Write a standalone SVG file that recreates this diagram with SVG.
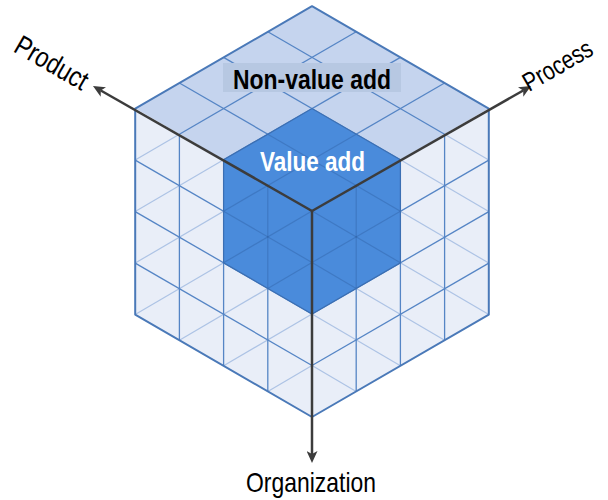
<svg xmlns="http://www.w3.org/2000/svg" width="608" height="500" viewBox="0 0 608 500">
  <style>
    .top { fill: #c5d4ee; }
    .side { fill: #e9eef8; }
    .grid { stroke: #5585c5; stroke-width: 1.3; fill: none; }
    .hid { stroke: #adc3e5; stroke-width: 1.2; fill: none; }
    .edge { stroke: #4a79b8; stroke-width: 2; fill: none; stroke-linejoin: round; }
    .va { fill: #4a8bdb; }
    .vaGrid { stroke: #23508f; stroke-opacity: 0.3; stroke-width: 1.2; fill: none; }
    .axis { stroke: #3c3c3c; stroke-width: 2.5; fill: none; }
    .lbl { font-family: "Liberation Sans Narrow", "Liberation Sans", Arial, sans-serif; font-size: 28px; fill: #000; }
    .bold { font-weight: bold; }
  </style>
  <defs>
    <marker id="arrow" markerUnits="userSpaceOnUse" markerWidth="12" markerHeight="11" viewBox="0 0 12 11" refX="3" refY="5.5" orient="auto">
      <path d="M0,0 L12,5.5 L0,11 L3,5.5 z" fill="#3c3c3c"/>
    </marker>
  </defs>

  <g id="cube">
    <polygon class="top" points="312,211 135.2,108.6 312,6.2 488.8,108.6"/>
    <polygon class="side" points="312,211 135.2,108.6 135.2,314.6 312,417"/>
    <polygon class="side" points="312,211 488.8,108.6 488.8,314.6 312,417"/>
    <g class="hid">
      <line x1="179.4" y1="134.2" x2="135.2" y2="160.1"/>
      <line x1="223.6" y1="159.8" x2="135.2" y2="211.6"/>
      <line x1="267.8" y1="185.4" x2="135.2" y2="263.1"/>
      <line x1="312" y1="211" x2="135.2" y2="314.6"/>
      <line x1="312" y1="262.5" x2="179.4" y2="340.2"/>
      <line x1="312" y1="314" x2="223.6" y2="365.8"/>
      <line x1="312" y1="365.5" x2="267.8" y2="391.4"/>
      <line x1="444.6" y1="134.2" x2="488.8" y2="160.1"/>
      <line x1="400.4" y1="159.8" x2="488.8" y2="211.6"/>
      <line x1="356.2" y1="185.4" x2="488.8" y2="263.1"/>
      <line x1="312" y1="211" x2="488.8" y2="314.6"/>
      <line x1="312" y1="262.5" x2="444.6" y2="340.2"/>
      <line x1="312" y1="314" x2="400.4" y2="365.8"/>
      <line x1="312" y1="365.5" x2="356.2" y2="391.4"/>
    </g>
    <g class="grid">
      <line x1="267.8" y1="185.4" x2="444.6" y2="83"/>
      <line x1="223.6" y1="159.8" x2="400.4" y2="57.4"/>
      <line x1="179.4" y1="134.2" x2="356.2" y2="31.8"/>
      <line x1="356.2" y1="185.4" x2="179.4" y2="83"/>
      <line x1="400.4" y1="159.8" x2="223.6" y2="57.4"/>
      <line x1="444.6" y1="134.2" x2="267.8" y2="31.8"/>
      <line x1="267.8" y1="185.4" x2="267.8" y2="391.4"/>
      <line x1="223.6" y1="159.8" x2="223.6" y2="365.8"/>
      <line x1="179.4" y1="134.2" x2="179.4" y2="340.2"/>
      <line x1="312" y1="262.5" x2="135.2" y2="160.1"/>
      <line x1="312" y1="314" x2="135.2" y2="211.6"/>
      <line x1="312" y1="365.5" x2="135.2" y2="263.1"/>
      <line x1="356.2" y1="185.4" x2="356.2" y2="391.4"/>
      <line x1="400.4" y1="159.8" x2="400.4" y2="365.8"/>
      <line x1="444.6" y1="134.2" x2="444.6" y2="340.2"/>
      <line x1="312" y1="262.5" x2="488.8" y2="160.1"/>
      <line x1="312" y1="314" x2="488.8" y2="211.6"/>
      <line x1="312" y1="365.5" x2="488.8" y2="263.1"/>
    </g>
    <polygon class="edge" points="312,6.2 488.8,108.6 488.8,314.6 312,417 135.2,314.6 135.2,108.6"/>
  </g>

  <g id="value-add">
    <polygon class="va" points="312,211 223.6,159.8 312,108.6 400.4,159.8"/>
    <polygon class="va" points="312,211 223.6,159.8 223.6,262.8 312,314"/>
    <polygon class="va" points="312,211 400.4,159.8 400.4,262.8 312,314"/>
    <g class="vaGrid">
      <line x1="267.8" y1="185.4" x2="356.2" y2="134.2"/>
      <line x1="356.2" y1="185.4" x2="267.8" y2="134.2"/>
      <line x1="267.8" y1="185.4" x2="267.8" y2="288.4"/>
      <line x1="312" y1="262.5" x2="223.6" y2="211.3"/>
      <line x1="267.8" y1="185.4" x2="223.6" y2="211.3"/>
      <line x1="312" y1="211" x2="223.6" y2="262.8"/>
      <line x1="312" y1="262.5" x2="267.8" y2="288.4"/>
      <line x1="356.2" y1="185.4" x2="356.2" y2="288.4"/>
      <line x1="312" y1="262.5" x2="400.4" y2="211.3"/>
      <line x1="356.2" y1="185.4" x2="400.4" y2="211.3"/>
      <line x1="312" y1="211" x2="400.4" y2="262.8"/>
      <line x1="312" y1="262.5" x2="356.2" y2="288.4"/>
    </g>
    <polygon points="312,211 223.6,159.8 223.6,262.8 312,314 400.4,262.8 400.4,159.8 312,108.6 223.6,159.8" fill="none" stroke="#3b6fb3" stroke-width="1.2"/>
    <text class="lbl bold" x="312.5" y="171" text-anchor="middle" style="fill:#ffffff" font-size="27" textLength="105" lengthAdjust="spacingAndGlyphs">Value add</text>
  </g>

  <g id="non-value-add">
    <rect x="223" y="63" width="178" height="29" fill="#b7c8e2"/>
    <text class="lbl bold" x="312" y="89" text-anchor="middle" font-size="27.5" textLength="158" lengthAdjust="spacingAndGlyphs">Non-value add</text>
  </g>

  <g id="connectors">
    <line class="axis" x1="312" y1="211" x2="100.8" y2="90.5" marker-end="url(#arrow)"/>
    <line class="axis" x1="312" y1="211" x2="523.2" y2="90.5" marker-end="url(#arrow)"/>
    <line class="axis" x1="312" y1="211" x2="312" y2="454" marker-end="url(#arrow)"/>
  </g>

  <g id="label-product">
    <text class="lbl" transform="translate(47,71) rotate(30)" text-anchor="middle" textLength="80" lengthAdjust="spacingAndGlyphs">Product</text>
  </g>
  <g id="label-process">
    <text class="lbl" transform="translate(562,73) rotate(-30)" text-anchor="middle" font-size="26" style="font-size:26px" textLength="76" lengthAdjust="spacingAndGlyphs">Process</text>
  </g>
  <g id="label-organization">
    <text class="lbl" x="311" y="492" text-anchor="middle" textLength="130" lengthAdjust="spacingAndGlyphs">Organization</text>
  </g>
</svg>
